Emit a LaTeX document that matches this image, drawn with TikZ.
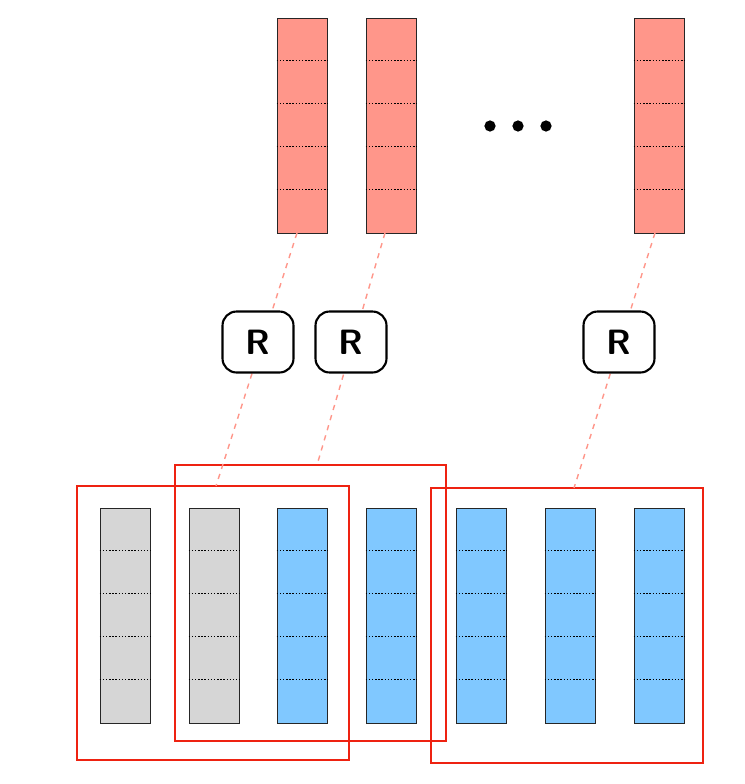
\documentclass[tikz,border=0pt]{standalone}
\usetikzlibrary{positioning}
\definecolor{salmon}{HTML}{FF968A}
\definecolor{skyblue}{HTML}{80C8FF}
\definecolor{lightgray}{HTML}{D6D6D6}
\definecolor{framered}{HTML}{EE2211}
\tikzset{
  col/.style={draw=black!85, minimum width=1cm, minimum height=4.3cm, inner sep=0pt},
  reg/.style={draw, very thick, rounded corners=8pt, minimum width=1.42cm, minimum height=1.22cm,
    font=\sffamily\bfseries\fontsize{20}{22}\selectfont},
  link/.style={salmon, thick, dashed},
  win/.style={framered, very thick},
}
\newcommand{\cells}[1]{%
  \foreach \k in {1,...,4}
    \draw[densely dotted, thick] ([yshift=-\k*0.86cm]#1.north west) -- ([yshift=-\k*0.86cm]#1.north east);}
\begin{document}
\begin{tikzpicture}[x=0.02cm, y=-0.02cm]
  \useasboundingbox (0,0) rectangle (744,784);
  % top columns
  \node[col, fill=salmon] (t1) at (302,125.5) {};
  \node[col, fill=salmon] (t2) at (391,125.5) {};
  \node[col, fill=salmon] (t3) at (659,125.5) {};
  \foreach \c in {t1,t2,t3} {\cells{\c}}
  \foreach \x in {490,518,546} \fill (\x,126) circle (3.2pt);
  % bottom columns
  \foreach \n/\x/\f in {b1/125/lightgray, b2/214/lightgray, b3/302/skyblue, b4/391/skyblue,
                        b5/481/skyblue, b6/570/skyblue, b7/659/skyblue} {
    \node[col, fill=\f] (\n) at (\x,615.5) {};
    \cells{\n}
  }
  % windows
  \draw[win] (77,486) rectangle (349,760);
  \draw[win] (175,465) rectangle (446,741);
  \draw[win] (431,488) rectangle (703,763);
  \coordinate (w1) at (216,486);
  \coordinate (w2) at (317,465);
  \coordinate (w3) at (574,488);
  % links
  \draw[link] (297,233) -- (w1);
  \draw[link] (385,233) -- (w2);
  \draw[link] (655,233) -- (w3);
  \node[reg, fill=white] (r1) at (258,342) {R};
  \node[reg, fill=white] (r2) at (351,342) {R};
  \node[reg, fill=white] (r3) at (619,342) {R};
\end{tikzpicture}
\end{document}
